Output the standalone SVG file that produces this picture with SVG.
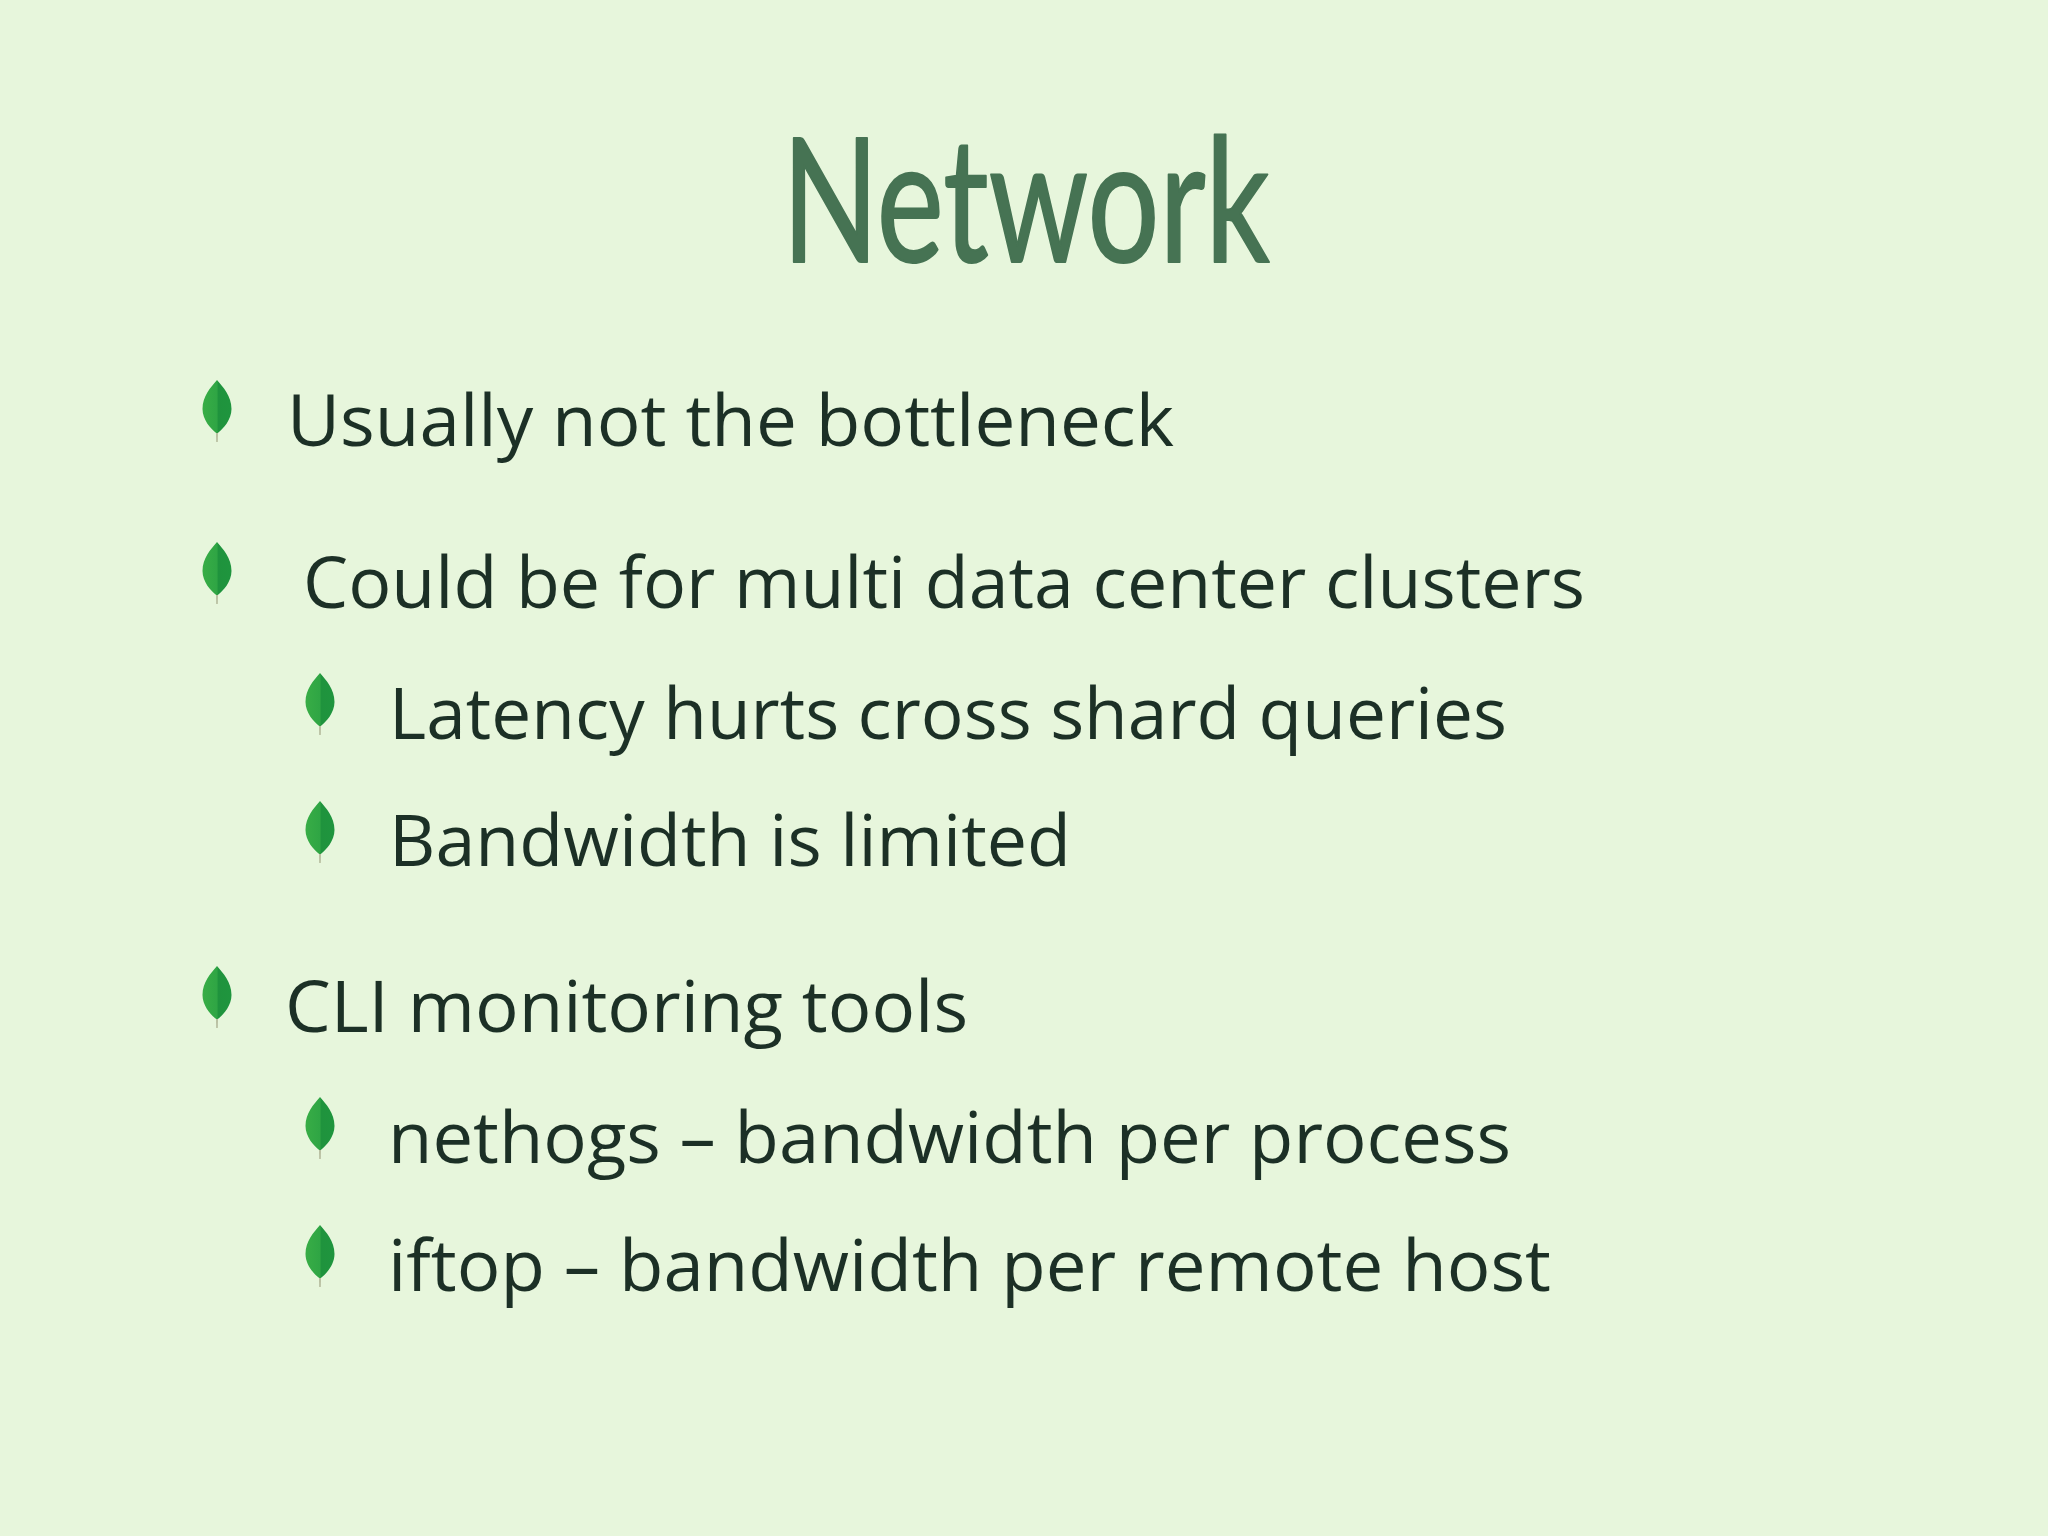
<svg xmlns="http://www.w3.org/2000/svg" width="2048" height="1536" viewBox="0 0 2048 1536">
<style>
.b{font-family:"Open Sans","Noto Sans",sans-serif;font-size:72px;fill:#1c3026}
.t{font-family:"Lato","Noto Sans",sans-serif;font-size:172px;fill:#467353;stroke:#467353;stroke-width:2;stroke-linejoin:round}
</style>
<defs>
<linearGradient id="l" x1="0" y1="0" x2="1" y2="0"><stop offset="0" stop-color="#38ad46"/><stop offset="0.5" stop-color="#2fa544"/><stop offset="0.54" stop-color="#1f933d"/><stop offset="1" stop-color="#1f953e"/></linearGradient>
<g id="leaf">
<path d="M-1 44 L1 44 L0.7 62 L-0.7 62 Z" fill="#b0b596"/>
<path d="M0 0 C6 7 14.5 16 14.5 29 C14.5 40 6 49 0.8 53 L-0.8 53 C-6 49 -14.5 40 -14.5 29 C-14.5 16 -6 7 0 0 Z" fill="url(#l)"/>
</g>
</defs>
<rect width="2048" height="1536" fill="#e7f6dc"/>
<text id="title" class="t" x="782" y="262" textLength="488" lengthAdjust="spacingAndGlyphs">Network</text>
<g id="item1"><use href="#leaf" x="217" y="380"/><text class="b" x="287" y="446" textLength="887" lengthAdjust="spacingAndGlyphs">Usually not the bottleneck</text></g>
<g id="item2"><use href="#leaf" x="217" y="542"/><text class="b" x="303" y="608" textLength="1282" lengthAdjust="spacingAndGlyphs">Could be for multi data center clusters</text></g>
<g id="item2a"><use href="#leaf" x="320" y="673"/><text class="b" x="389" y="739" textLength="1118" lengthAdjust="spacingAndGlyphs">Latency hurts cross shard queries</text></g>
<g id="item2b"><use href="#leaf" x="320" y="801"/><text class="b" x="389" y="866" textLength="682" lengthAdjust="spacingAndGlyphs">Bandwidth is limited</text></g>
<g id="item3"><use href="#leaf" x="217" y="966"/><text class="b" x="285" y="1032" textLength="683" lengthAdjust="spacingAndGlyphs">CLI monitoring tools</text></g>
<g id="item3a"><use href="#leaf" x="320" y="1097"/><text class="b" x="388" y="1163" textLength="1123" lengthAdjust="spacingAndGlyphs">nethogs – bandwidth per process</text></g>
<g id="item3b"><use href="#leaf" x="320" y="1225"/><text class="b" x="388" y="1291" textLength="1163" lengthAdjust="spacingAndGlyphs">iftop – bandwidth per remote host</text></g>
</svg>
